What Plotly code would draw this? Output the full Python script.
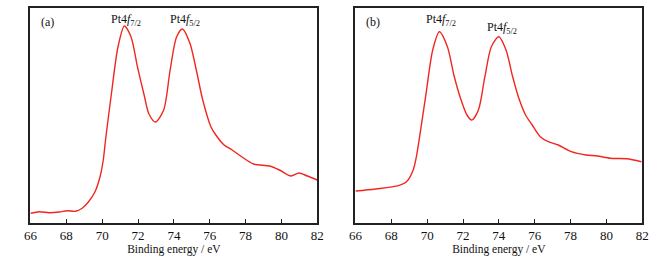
import plotly.graph_objects as go

# Panel (a): binding energy (eV) and intensity (a.u.)
energy_a = [66.0, 66.5, 67.05, 67.6, 68.06, 68.51, 68.88, 69.24, 69.6, 69.88, 70.06, 70.2,
            70.52, 70.88, 71.24, 71.61, 71.97, 72.34, 72.61, 72.97, 73.43, 73.79, 74.15,
            74.48, 74.89, 75.25, 75.61, 76.07, 76.34, 76.8, 77.25, 77.8, 78.44, 79.34,
            79.89, 80.53, 80.98, 81.44, 81.99]
intensity_a = [9.7, 11.3, 10.3, 11, 12.3, 11.7, 14.7, 21.3, 31.3, 46.3, 63, 85,
               130, 176, 197, 186, 156, 128, 109, 101, 113, 153, 186,
               194, 180, 153, 123, 96, 88, 78, 73, 66, 59, 57,
               53, 47, 50, 47, 43]

# Panel (b)
energy_b = [66.0, 67.13, 68.4, 68.85, 69.22, 69.4, 69.58, 69.94, 70.31, 70.68, 71.13, 71.49,
            71.86, 72.22, 72.49, 72.86, 73.22, 73.58, 74.0, 74.4, 74.77, 75.13, 75.49,
            75.86, 76.31, 76.76, 77.31, 78.04, 78.86, 79.49, 80.22, 81.13, 81.95]
intensity_b = [32, 34, 37.3, 41.3, 53, 66.3, 86.3, 129.7, 173, 191.3, 176.3, 148,
               124.7, 108, 103, 113, 146.3, 176.3, 186.3, 173, 146.3, 124, 108,
               98, 86.3, 81.3, 78, 71.3, 68, 67, 64.7, 64.3, 61.3]

x_ticks = [66, 68, 70, 72, 74, 76, 78, 80, 82]
x_title = "Binding energy / eV"
peak_labels = ["Pt4<i>f</i><sub>7/2</sub>", "Pt4<i>f</i><sub>5/2</sub>"]
panel_labels = ["(a)", "(b)"]

FONT = "Liberation Serif, Times New Roman, serif"
RED = "#f0271f"

fig = go.Figure()
fig.add_trace(go.Scatter(x=energy_a, y=intensity_a, mode="lines",
                         line=dict(color=RED, width=1.4, shape="spline", smoothing=0.8),
                         xaxis="x", yaxis="y", showlegend=False, hoverinfo="skip"))
fig.add_trace(go.Scatter(x=energy_b, y=intensity_b, mode="lines",
                         line=dict(color=RED, width=1.4, shape="spline", smoothing=0.8),
                         xaxis="x2", yaxis="y2", showlegend=False, hoverinfo="skip"))

W, H = 661, 260
xa = dict(range=[66, 82], tickvals=x_ticks, ticks="inside", ticklen=4, tickwidth=1.3,
          tickcolor="#222", showline=True, linecolor="#222", linewidth=1.5, mirror=True,
          showgrid=False, zeroline=False, tickfont=dict(family=FONT, size=13, color="#111"),
          title=dict(text=x_title, font=dict(family=FONT, size=11.5, color="#111"), standoff=3))
ya = dict(range=[0, 215], showticklabels=False, ticks="", showline=True, linecolor="#222",
          linewidth=1.5, mirror=True, showgrid=False, zeroline=False)

ydom = [1 - 223 / H, 1 - 8 / H]
fig.update_layout(
    width=W, height=H, margin=dict(l=0, r=0, t=0, b=0),
    paper_bgcolor="white", plot_bgcolor="white",
    xaxis=dict(xa, domain=[24 / W, 317 / W], anchor="y"),
    yaxis=dict(ya, domain=ydom, anchor="x"),
    xaxis2=dict(xa, domain=[356 / W, 649 / W], anchor="y2"),
    yaxis2=dict(ya, domain=ydom, anchor="x2"),
)

ann_font = dict(family=FONT, size=12, color="#111")
annos = [
    ("x", "y", 66.93, 201, panel_labels[0]),
    ("x", "y", 71.35, 203, peak_labels[0]),
    ("x", "y", 74.6, 203, peak_labels[1]),
    ("x2", "y2", 66.96, 201, panel_labels[1]),
    ("x2", "y2", 70.75, 203, peak_labels[0]),
    ("x2", "y2", 74.15, 195, peak_labels[1]),
]
for xr, yr, xv, yv, t in annos:
    fig.add_annotation(xref=xr, yref=yr, x=xv, y=yv, text=t, showarrow=False,
                       font=ann_font, xanchor="center", yanchor="middle")

fig.write_html("out.html", config={"displayModeBar": False},
               post_script="document.body.style.margin='0';document.body.style.overflow='hidden';")
